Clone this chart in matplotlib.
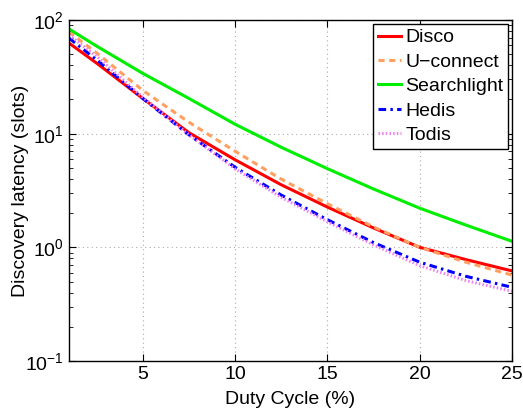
import matplotlib
matplotlib.use("Agg")
import matplotlib.pyplot as plt
from matplotlib.ticker import LogLocator, NullFormatter

plt.rcParams['font.family'] = ['Liberation Sans', 'DejaVu Sans']
plt.rcParams['mathtext.fontset'] = 'custom'
plt.rcParams['mathtext.rm'] = 'Liberation Sans'
plt.rcParams['mathtext.it'] = 'Liberation Sans:italic'

# Duty cycle (%) and discovery latency (slots) for each protocol
duty_cycle = [1, 2.5, 5, 7.5, 10, 12.5, 15, 17.5, 20, 22.5, 25]
disco = [62.7, 41.7, 20.4, 10.2, 5.89, 3.55, 2.26, 1.48, 1.0, 0.78, 0.62]
uconnect = [78.3, 51.3, 24.0, 12.6, 7.0, 3.98, 2.42, 1.51, 1.0, 0.74, 0.57]
searchlight = [83.4, 58.9, 33.9, 20.4, 12.1, 7.59, 4.92, 3.26, 2.21, 1.57, 1.13]
hedis = [69.3, 44.7, 20.4, 9.77, 5.06, 2.88, 1.75, 1.10, 0.74, 0.556, 0.445]
todis = [73.8, 47.9, 20.9, 9.77, 4.90, 2.75, 1.68, 1.05, 0.69, 0.51, 0.41]

x_ticks = [5, 10, 15, 20, 25]

fig = plt.figure(figsize=(5.23, 4.08), dpi=100)
ax = fig.add_axes([0.1319, 0.1152, 0.8471, 0.8358])

lw = 2.2
ax.plot(duty_cycle, disco, color='#ff0000', lw=lw, ls='-', label='Disco')
ax.plot(duty_cycle, uconnect, color='#ffa060', lw=lw, ls=(0, (2.0, 1.5)), label='U\u2212connect')
ax.plot(duty_cycle, searchlight, color='#00ee00', lw=lw, ls='-', label='Searchlight')
ax.plot(duty_cycle, hedis, color='#0000ff', lw=lw, ls=(0, (2.5, 1.4, 0.8, 1.4)), label='Hedis')
ax.plot(duty_cycle, todis, color='#f080f0', lw=lw, ls=(0, (0.5, 0.7)), label='Todis')

ax.set_yscale('log')
ax.set_xlim(1, 25)
ax.set_ylim(0.1, 100)
ax.set_xticks(x_ticks)
ax.yaxis.set_major_locator(LogLocator(base=10, numticks=10))
ax.yaxis.set_minor_locator(LogLocator(base=10, subs=range(2, 10), numticks=20))
ax.yaxis.set_minor_formatter(NullFormatter())

ax.tick_params(which='both', direction='in', top=True, right=True, labelsize=14)
ax.tick_params(which='major', length=5, width=0.8)
ax.tick_params(which='minor', length=3, width=0.6)
for s in ax.spines.values():
    s.set_linewidth(1.0)

ax.grid(True, which='major', ls=(0, (1, 3)), color='#aaaaaa', lw=0.8)

ax.set_xlabel('Duty Cycle (%)', fontsize=14, labelpad=6)
ax.set_ylabel('Discovery latency (slots)', fontsize=14)
ax.yaxis.set_label_coords(-0.09, 0.5)

leg = ax.legend(loc='upper right', fontsize=14, handlelength=1.2, handletextpad=0.2,
                labelspacing=0.35, borderpad=0.25, borderaxespad=0.2, fancybox=False,
                framealpha=1, edgecolor='black')
leg.get_frame().set_linewidth(1.0)

fig.savefig('out.png', dpi=100)
